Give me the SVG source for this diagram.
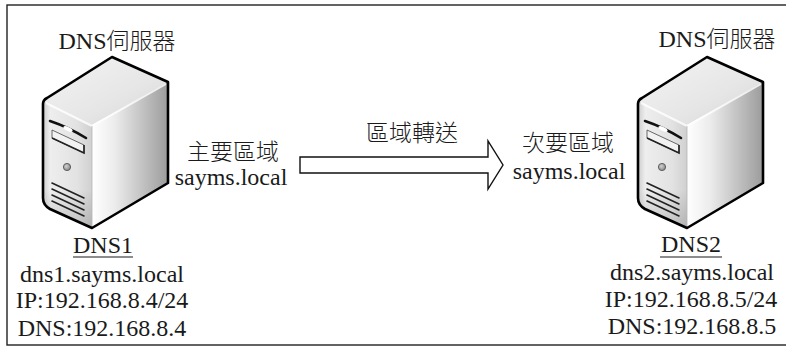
<svg xmlns="http://www.w3.org/2000/svg" xmlns:xlink="http://www.w3.org/1999/xlink" width="786" height="350" viewBox="0 0 786 350">
  <style>
    .t { font-family: "Liberation Serif", "DejaVu Serif", serif; font-size: 24px; fill: #1a1a1a; text-anchor: middle; }
    .cjk { font-family: "Noto Sans CJK TC", sans-serif; font-size: 23px; font-weight: 300; fill: #1a1a1a; text-anchor: middle; }
    .cj { font-family: "Noto Sans CJK TC", sans-serif; font-size: 23px; font-weight: 300; }
    .ul { stroke: #1a1a1a; stroke-width: 1.2; }
    .frame { fill: none; stroke: #222; stroke-width: 1.4; }
    .arrow { fill: #fff; stroke: #111; stroke-width: 1.4; stroke-linejoin: miter; }
    .outline { fill: none; stroke: #000; stroke-width: 2.6; stroke-linejoin: round; }
    .vent { stroke: #222; stroke-width: 1.6; stroke-linecap: round; }
  </style>
  <defs>
    <linearGradient id="gTop" x1="0" y1="0" x2="1" y2="1">
      <stop offset="0" stop-color="#f4f4f4"/>
      <stop offset="0.6" stop-color="#e6e6e6"/>
      <stop offset="1" stop-color="#d4d4d4"/>
    </linearGradient>
    <linearGradient id="gFront" x1="0" y1="0" x2="1" y2="0">
      <stop offset="0" stop-color="#cdcdcd"/>
      <stop offset="0.15" stop-color="#eeeeee"/>
      <stop offset="0.7" stop-color="#e2e2e2"/>
      <stop offset="1" stop-color="#d0d0d0"/>
    </linearGradient>
    <linearGradient id="gFrontShade" x1="0" y1="0" x2="0" y2="1">
      <stop offset="0" stop-color="#000" stop-opacity="0"/>
      <stop offset="0.7" stop-color="#000" stop-opacity="0"/>
      <stop offset="1" stop-color="#000" stop-opacity="0.15"/>
    </linearGradient>
    <linearGradient id="gSide" x1="0" y1="0" x2="1" y2="0">
      <stop offset="0" stop-color="#ffffff"/>
      <stop offset="0.3" stop-color="#ececec"/>
      <stop offset="1" stop-color="#9c9c9c"/>
    </linearGradient>
    <radialGradient id="gBtn" cx="0.4" cy="0.4" r="0.6">
      <stop offset="0" stop-color="#d0d0d0"/>
      <stop offset="1" stop-color="#8a8a8a"/>
    </radialGradient>
    <!-- tower server, drawn in isometric view -->
    <g id="server">
      <path d="M43,101 L112,57 L168,82 L92,125 Z" fill="url(#gTop)"/>
      <path d="M43,101 L92,125 L92,228 L50,209 Q43,205 43,198 Z" fill="url(#gFront)"/>
      <path d="M43,101 L92,125 L92,228 L50,209 Q43,205 43,198 Z" fill="url(#gFrontShade)"/>
      <path d="M92,125 L168,82 L168,183 L92,228 Z" fill="url(#gSide)"/>
      <path d="M46,103 L92,126 L166,84" fill="none" stroke="#fff" stroke-width="2" stroke-opacity="0.8"/>
      <line x1="92" y1="126" x2="92" y2="228" stroke="#b5b5b5" stroke-width="0.8"/>
      <!-- drive slot -->
      <path d="M50,121 Q68,127 86,138" fill="none" stroke="#111" stroke-width="2.6" stroke-linecap="round"/>
      <ellipse cx="68" cy="129" rx="5" ry="2" fill="#fff" transform="rotate(26 68 129)"/>
      <path d="M52,130 L84,145 L84,153 L52,138 Z" fill="#f2f2f2" stroke="#444" stroke-width="0.8"/>
      <path d="M52,138 L84,153 L84,145" fill="none" stroke="#222" stroke-width="1.6"/>
      <!-- power button -->
      <circle cx="67" cy="167" r="3.6" fill="url(#gBtn)" stroke="#555" stroke-width="0.9"/>
      <!-- vents -->
      <line class="vent" x1="52" y1="183" x2="84" y2="198"/>
      <line class="vent" x1="52" y1="189" x2="84" y2="204"/>
      <line class="vent" x1="52" y1="195" x2="84" y2="210"/>
      <line class="vent" x1="52" y1="201" x2="84" y2="216"/>
      <path class="outline" d="M43,198 L43,104 Q43,100 47,98 L112,57 L168,82 L168,183 L92,228 L50,209 Q43,205 43,198 Z"/>
    </g>
  </defs>

  <rect class="frame" x="7" y="5" width="800" height="340"/>

  <g id="dns1">
    <use xlink:href="#server" href="#server"/>
    <text class="t" x="117" y="49">DNS<tspan class="cj">伺服器</tspan></text>
    <text class="cjk" x="233" y="160">主要區域</text>
    <text class="t" x="231" y="185">sayms.local</text>
    <text class="t" x="103" y="253">DNS1</text>
    <line class="ul" x1="73" y1="257" x2="133" y2="257"/>
    <text class="t" x="102" y="282">dns1.sayms.local</text>
    <text class="t" x="102" y="308">IP:192.168.8.4/24</text>
    <text class="t" x="102" y="336">DNS:192.168.8.4</text>
  </g>

  <g id="dns2">
    <use xlink:href="#server" href="#server" transform="translate(595,0)"/>
    <text class="t" x="717" y="47">DNS<tspan class="cj">伺服器</tspan></text>
    <text class="cjk" x="568" y="151">次要區域</text>
    <text class="t" x="569" y="179">sayms.local</text>
    <text class="t" x="691" y="252">DNS2</text>
    <line class="ul" x1="660" y1="257" x2="722" y2="257"/>
    <text class="t" x="692" y="280">dns2.sayms.local</text>
    <text class="t" x="691" y="307">IP:192.168.8.5/24</text>
    <text class="t" x="692" y="334">DNS:192.168.8.5</text>
  </g>

  <g id="connectors">
    <polygon class="arrow" points="300,157 488,157 488,141 503,165 488,189 488,173 300,173"/>
    <text class="cjk" x="412" y="141">區域轉送</text>
  </g>
</svg>
